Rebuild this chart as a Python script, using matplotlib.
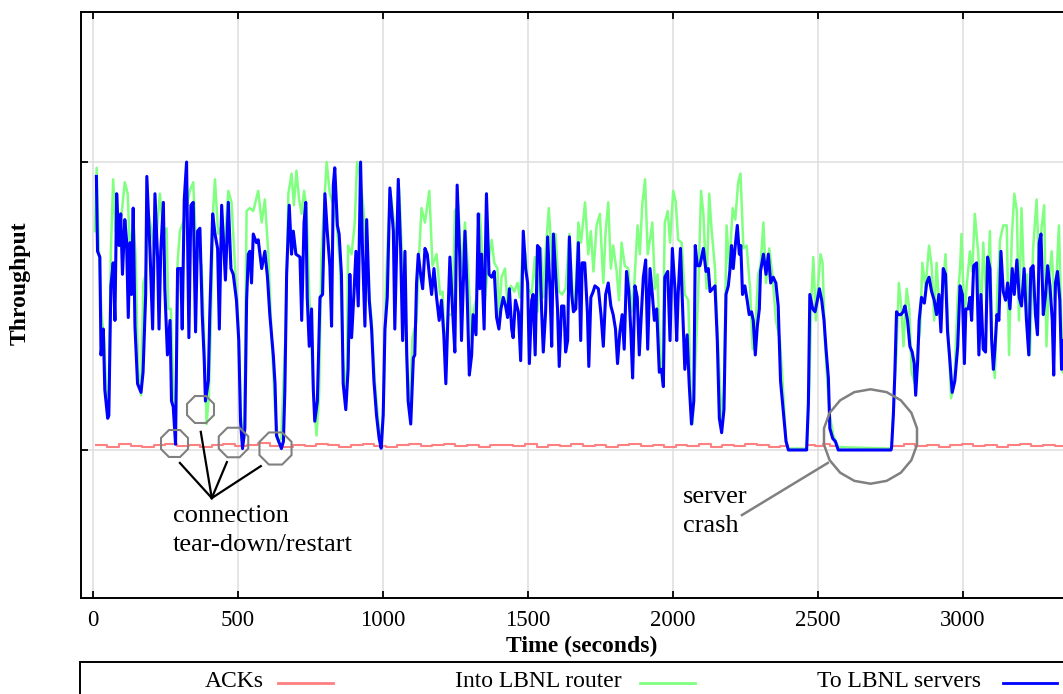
#!/usr/bin/env python
# -*- coding: utf-8 -*-

import matplotlib
matplotlib.use('Agg')
import matplotlib.pyplot as plt
from matplotlib.lines import Line2D
from matplotlib.patches import Rectangle

plt.rcParams['font.family'] = ['Liberation Serif', 'DejaVu Serif']

# "To LBNL servers" (blue), time in seconds, throughput (tick at 10)
blue_t = [12, 16, 24, 28, 36, 41, 51, 55, 59, 62, 70, 76, 82, 90, 96, 102, 110, 116, 122, 128,
          133, 139, 145, 154, 166, 173, 182, 186, 197, 206, 214, 223, 228, 234, 243, 248, 257, 266,
          271, 277, 285, 292, 303, 308, 315, 323, 331, 338, 346, 354, 361, 369, 377, 384, 388, 398,
          403, 413, 421, 430, 436, 444, 452, 457, 467, 476, 484, 495, 503, 509, 516, 524, 530, 536,
          541, 547, 553, 564, 570, 582, 593, 602, 610, 622, 628, 633, 650, 657, 662, 668, 677, 685,
          691, 700, 714, 720, 728, 734, 739, 746, 754, 760, 765, 774, 783, 792, 800, 808, 817, 823,
          829, 834, 843, 849, 857, 863, 872, 880, 886, 892, 900, 907, 915, 923, 930, 938, 944, 953,
          961, 969, 978, 987, 994, 1001, 1007, 1015, 1024, 1036, 1041, 1053, 1061, 1068, 1076, 1082,
          1087, 1096, 1105, 1110, 1116, 1122, 1130, 1137, 1145, 1153, 1160, 1168, 1176, 1185, 1194,
          1202, 1210, 1217, 1225, 1231, 1240, 1248, 1256, 1265, 1271, 1283, 1291, 1298, 1306, 1311,
          1321, 1329, 1334, 1340, 1349, 1357, 1366, 1375, 1384, 1392, 1400, 1407, 1415, 1423, 1430,
          1436, 1444, 1449, 1457, 1467, 1475, 1484, 1492, 1499, 1505, 1513, 1518, 1525, 1533, 1541,
          1547, 1553, 1561, 1568, 1576, 1582, 1588, 1595, 1602, 1608, 1616, 1624, 1630, 1637, 1643,
          1651, 1657, 1665, 1674, 1682, 1687, 1696, 1705, 1710, 1717, 1725, 1731, 1743, 1752, 1760,
          1768, 1777, 1786, 1794, 1802, 1809, 1817, 1825, 1832, 1840, 1848, 1855, 1861, 1869, 1877,
          1884, 1892, 1898, 1906, 1913, 1921, 1929, 1936, 1944, 1953, 1961, 1967, 1972, 1982, 1990,
          1998, 2007, 2013, 2018, 2026, 2033, 2041, 2049, 2056, 2064, 2072, 2077, 2084, 2093, 2105,
          2114, 2122, 2128, 2137, 2145, 2153, 2160, 2168, 2176, 2183, 2191, 2197, 2202, 2208, 2214,
          2222, 2229, 2234, 2240, 2248, 2256, 2263, 2271, 2277, 2284, 2291, 2298, 2302, 2312, 2321,
          2329, 2337, 2346, 2355, 2363, 2371, 2380, 2390, 2398, 2461, 2467, 2472, 2482, 2490, 2498,
          2505, 2513, 2521, 2528, 2536, 2541, 2551, 2560, 2570, 2752, 2754, 2760, 2765, 2771, 2777,
          2786, 2794, 2800, 2809, 2817, 2825, 2832, 2837, 2844, 2849, 2857, 2867, 2875, 2883, 2892,
          2901, 2909, 2917, 2924, 2932, 2940, 2947, 2955, 2963, 2972, 2982, 2990, 2998, 3005, 3010,
          3018, 3024, 3030, 3037, 3047, 3055, 3062, 3070, 3078, 3085, 3093, 3099, 3105, 3110, 3117,
          3124, 3131, 3139, 3147, 3154, 3162, 3170, 3177, 3186, 3194, 3202, 3211, 3219, 3227, 3234,
          3242, 3250, 3257, 3263, 3269, 3277, 3285, 3292, 3300, 3308, 3313, 3319, 3326, 3334, 3340,
          3345]
blue_v = [9.5, 6.9, 6.7, 3.3, 4.2, 2.1, 1.1, 1.2, 3.8, 5.7, 6.5, 4.5, 8.9, 7.1, 8.2, 6.1, 8.0, 7.3, 4.6, 7.2,
          5.4, 8.4, 4.3, 2.3, 2.0, 2.7, 5.4, 9.5, 6.9, 4.2, 8.9, 6.7, 4.2, 6.9, 8.6, 5.6, 3.3, 4.5,
          1.7, 1.5, 0.2, 6.3, 6.3, 4.2, 8.7, 10.0, 3.9, 8.5, 8.6, 4.1, 7.6, 7.7, 4.7, 3.1, 1.7, 2.4,
          4.7, 8.2, 7.5, 7.0, 4.2, 8.5, 6.9, 5.9, 8.6, 6.3, 6.1, 5.2, 3.8, 1.0, 0.05, 0.75, 5.2, 6.8,
          6.9, 5.8, 7.5, 7.2, 7.3, 6.3, 6.9, 6.0, 4.7, 3.3, 2.3, 0.5, 0.05, 0.3, 2.1, 6.1, 8.5, 6.8,
          7.6, 6.8, 6.7, 4.5, 7.9, 8.6, 5.3, 3.6, 4.9, 2.1, 1.0, 1.7, 5.3, 5.4, 8.9, 7.6, 6.4, 4.3,
          9.2, 9.8, 7.8, 7.5, 6.1, 2.3, 1.4, 2.8, 6.1, 3.9, 5.4, 6.9, 5.0, 10.0, 6.8, 4.3, 8.0, 5.2,
          4.2, 2.4, 1.2, 0.4, 0.06, 1.2, 4.2, 5.3, 9.1, 7.6, 4.2, 9.4, 7.0, 3.8, 6.9, 3.4,
          1.7, 0.9, 3.2, 3.3, 5.8, 6.8, 6.1, 5.6, 7.0, 6.8, 6.1, 5.4, 6.3, 5.3, 4.5,
          5.2, 4.0, 2.3, 4.9, 6.7, 4.9, 3.4, 9.2, 6.7, 3.8, 7.6, 5.2, 2.6, 3.3, 4.7,
          4.0, 8.2, 5.6, 6.8, 4.2, 8.9, 6.1, 6.0, 6.2, 4.6, 4.2, 4.9, 5.3, 5.0, 4.6,
          5.6, 4.2, 3.9, 5.2, 4.8, 3.1, 7.6, 6.3, 5.8, 3.0, 5.2, 5.4, 3.3, 7.1, 7.0,
          4.9, 3.4, 4.8, 7.4, 5.6, 3.6, 7.5, 6.2, 4.9, 2.9, 5.0, 5.0, 3.4, 3.8, 7.4,
          5.4, 4.8, 4.9, 7.2, 3.8, 6.5, 6.5, 4.8, 2.9, 5.3, 5.5, 5.7, 5.6, 4.7, 3.6,
          5.4, 5.8, 5.0, 4.7, 4.2, 3.0, 4.1, 4.7, 3.5, 6.2, 5.5, 4.1, 2.5, 5.7, 5.3,
          3.3, 4.9, 6.0, 6.6, 3.5, 6.3, 5.4, 4.5, 4.9, 2.7, 2.8, 2.2, 6.0, 6.2, 3.8,
          7.0, 5.6, 3.8, 5.4, 7.0, 5.0, 2.8, 4.0, 2.3, 0.9, 1.7, 7.1, 6.4, 6.4, 7.0,
          6.2, 6.3, 5.5, 5.6, 5.7, 3.8, 1.1, 0.6, 1.4, 5.4, 5.7, 6.3, 7.1, 6.3, 7.0,
          7.8, 6.8, 7.1, 5.4, 5.7, 5.2, 4.7, 4.8, 4.5, 3.3, 4.3, 4.9, 6.2, 6.8, 6.1,
          6.8, 5.8, 6.0, 5.8, 5.0, 2.4, 1.4, 0.3, 0.0, 0.0, 1.6, 5.4, 4.9, 4.8, 5.2,
          5.6, 5.2, 4.5, 3.5, 2.5, 0.75, 0.4, 0.3, 0.0, 0.0, 0.1, 1.2, 2.6, 4.8, 4.7,
          4.7, 4.8, 5.0, 4.5, 3.6, 3.4, 3.0, 1.9, 3.1, 4.5, 5.3, 5.1, 5.8, 6.0, 5.5,
          5.2, 4.7, 5.4, 4.1, 6.3, 6.1, 4.1, 3.1, 2.0, 2.4, 3.6, 5.7, 5.4, 3.0, 4.9,
          4.9, 5.3, 4.5, 6.4, 6.5, 3.3, 5.4, 3.5, 3.4, 6.7, 6.3, 3.8, 2.8, 3.5, 4.7,
          4.5, 6.9, 5.5, 5.2, 5.8, 4.9, 6.3, 5.4, 6.6, 5.3, 5.0, 6.3, 4.5, 3.3, 6.3,
          6.4, 4.7, 4.0, 7.2, 7.5, 4.7, 5.4, 6.4, 5.7, 4.5, 2.6, 5.8, 6.2, 5.2, 2.8,
          3.8]

# "Into LBNL router" (green)
green_t = [7, 13, 21, 30, 39, 47, 55, 62, 70, 78, 87, 99, 110, 120, 128, 139, 147, 156, 166, 174,
           182, 191, 202, 214, 223, 231, 243, 254, 260, 269, 277, 285, 292, 300, 311, 323, 334, 346,
           354, 363, 375, 384, 392, 400, 407, 415, 421, 432, 444, 455, 467, 478, 490, 501, 510, 522,
           530, 541, 553, 570, 582, 593, 605, 616, 628, 639, 650, 656, 665, 674, 685, 693, 702, 711,
           720, 728, 737, 746, 760, 771, 780, 788, 794, 806, 817, 829, 840, 852, 863, 875, 880, 892,
           903, 911, 921, 932, 941, 949, 961, 972, 984, 995, 1003, 1010, 1018, 1026, 1038, 1047, 1056,
           1068, 1079, 1091, 1102, 1116, 1125, 1133, 1145, 1160, 1171, 1185, 1197, 1206, 1214, 1225,
           1240, 1248, 1260, 1271, 1283, 1294, 1306, 1314, 1323, 1334, 1343, 1352, 1363, 1375, 1384,
           1395, 1400, 1409, 1421, 1430, 1441, 1453, 1464, 1472, 1484, 1492, 1501, 1513, 1524, 1533,
           1545, 1553, 1562, 1572, 1584, 1595, 1607, 1618, 1630, 1643, 1653, 1662, 1674, 1683, 1697,
           1708, 1717, 1726, 1737, 1748, 1760, 1768, 1777, 1786, 1794, 1806, 1814, 1823, 1834, 1846,
           1857, 1867, 1878, 1886, 1894, 1904, 1913, 1921, 1929, 1938, 1947, 1956, 1963, 1972, 1982,
           1990, 2001, 2010, 2018, 2030, 2041, 2053, 2061, 2068, 2076, 2087, 2097, 2105, 2116, 2125,
           2133, 2145, 2156, 2168, 2176, 2185, 2194, 2206, 2215, 2225, 2233, 2243, 2254, 2266, 2275,
           2286, 2294, 2302, 2312, 2321, 2332, 2344, 2355, 2369, 2378, 2390, 2398, 2461, 2470, 2478,
           2484, 2493, 2501, 2509, 2516, 2524, 2532, 2541, 2553, 2570, 2754, 2763, 2771, 2779, 2788,
           2795, 2806, 2815, 2823, 2834, 2844, 2852, 2860, 2871, 2883, 2892, 2901, 2909, 2921, 2929,
           2940, 2949, 2959, 2970, 2982, 2990, 2995, 3005, 3013, 3024, 3032, 3041, 3053, 3062, 3070,
           3082, 3093, 3101, 3110, 3119, 3128, 3139, 3151, 3159, 3168, 3177, 3186, 3193, 3202, 3211,
           3221, 3231, 3242, 3254, 3262, 3271, 3280, 3288, 3296, 3306, 3315, 3323, 3331, 3340, 3345]
green_v = [7.6, 9.8, 6.8, 4.7, 3.8, 1.7, 2.1, 6.9, 9.4, 7.6, 7.3, 8.2, 9.3, 8.9, 6.8, 8.0, 6.8, 2.8, 1.9, 5.8,
           6.1, 8.3, 7.6, 6.8, 7.9, 8.9, 7.5, 7.7, 4.9, 4.9, 2.1, 0.4, 6.5, 7.6, 7.9, 8.4, 9.0, 9.3,
           7.5, 6.8, 6.4, 3.8, 0.9, 1.9, 4.5, 8.4, 9.4, 7.5, 7.8, 7.2, 9.0, 8.6, 6.4, 4.5, 1.2, 0.4,
           8.3, 8.4, 8.3, 9.0, 7.9, 8.7, 6.8, 4.0, 1.4, 0.3, 0.4, 2.1, 4.2, 8.9, 9.6, 8.5, 9.7, 8.7,
           8.2, 9.0, 8.4, 5.4, 2.1, 0.5, 1.9, 6.8, 7.9, 10.0, 8.9, 8.5, 7.9, 6.4, 3.1, 1.7, 7.1, 6.8,
           7.9, 10.0, 9.5, 8.5, 7.2, 5.8, 4.5, 2.4, 1.0, 0.2, 1.9, 5.6, 7.6, 9.0, 7.9, 6.8, 9.1,
           6.2, 3.8, 1.3, 3.9, 4.5, 6.8, 8.4, 7.9, 9.0, 6.4, 6.8, 5.4, 5.5, 3.3, 4.7,
           4.7, 8.3, 8.5, 6.2, 7.9, 6.2, 3.8, 4.9, 5.3, 8.2, 6.8, 5.2, 6.5, 7.3, 6.5,
           6.3, 4.5, 6.0, 6.3, 5.0, 5.7, 5.5, 5.8, 5.3, 7.2, 6.8, 5.6, 5.4, 6.7, 4.8,
           7.0, 5.3, 7.0, 8.4, 6.4, 7.5, 5.5, 5.4, 5.6, 7.5, 5.6, 4.9, 7.9, 7.2, 8.6,
           6.8, 7.6, 6.2, 7.8, 8.2, 5.8, 7.6, 8.6, 6.3, 7.1, 6.2, 5.2, 7.2, 6.4, 6.3,
           4.8, 5.8, 7.8, 6.8, 8.5, 9.4, 6.8, 7.3, 7.9, 5.6, 6.1, 3.1, 2.4, 7.9, 8.3,
           7.2, 9.0, 8.6, 7.3, 7.2, 5.4, 5.2, 2.1, 0.9, 2.7, 5.4, 9.0, 8.2, 5.6, 8.9,
           7.7, 6.3, 3.6, 1.0, 2.1, 7.8, 6.3, 8.4, 8.0, 9.3, 9.6, 7.0, 7.1, 5.6, 3.5,
           4.5, 6.1, 6.4, 7.9, 5.8, 7.0, 6.0, 4.5, 3.8, 2.4, 0.3, 0.05, 0.05, 2.1, 5.4,
           6.7, 4.5, 5.8, 6.8, 6.5, 3.8, 2.4, 1.2, 0.5, 0.1, 0.05, 2.1, 3.4, 5.8, 4.9,
           3.6, 5.6, 4.9, 2.7, 2.3, 3.6, 4.1, 6.5, 5.6, 7.1, 6.4, 4.5, 6.5, 4.6, 5.4,
           6.8, 4.2, 1.8, 2.3, 5.3, 6.3, 7.5, 4.5, 5.7, 6.9, 6.2, 8.2, 6.8, 4.5, 7.2,
           5.0, 7.6, 3.4, 2.5, 5.6, 7.3, 7.8, 7.8, 3.3, 7.3, 8.9, 8.3, 4.5, 8.4, 5.8,
           6.1, 3.3, 7.0, 8.7, 6.4, 7.7, 8.5, 3.6, 5.8, 6.9, 5.2, 6.1, 7.8, 4.1, 2.7]

# ACKs (red), three stretches with outages in between
ack_t1 = list(range(10, 2400, 40))
ack_v1 = [0.18, 0.12, 0.20, 0.15, 0.10, 0.17, 0.22, 0.14, 0.19, 0.11, 0.16, 0.21, 0.13, 0.18, 0.24,
          0.15, 0.10, 0.19, 0.14, 0.20, 0.16, 0.12, 0.18, 0.22, 0.15, 0.09, 0.17, 0.20, 0.13, 0.16,
          0.21, 0.14, 0.18, 0.11, 0.16, 0.19, 0.14, 0.22, 0.12, 0.17, 0.15, 0.20, 0.13, 0.18, 0.10,
          0.16, 0.21, 0.14, 0.19, 0.12, 0.17, 0.15, 0.22, 0.09, 0.18, 0.14, 0.20, 0.16, 0.11, 0.15]
ack_t2 = [2466, 2491, 2516, 2541]
ack_v2 = [0.18, 0.14, 0.21, 0.15]
ack_t3 = list(range(2756, 3350, 40))
ack_v3 = [0.15, 0.20, 0.13, 0.18, 0.11, 0.17, 0.22, 0.14, 0.19, 0.12, 0.16, 0.20, 0.13, 0.18, 0.15]

x_ticks = [0, 500, 1000, 1500, 2000, 2500, 3000]
y_ticks = [0, 10]
labels = ['ACKs', 'Into LBNL router', 'To LBNL servers']
colors = ['#ff8080', '#80ff80', '#0000ff']


def main():
    fig = plt.figure(figsize=(10.63, 6.94), dpi=100)
    ax = fig.add_axes([81 / 1063, 96 / 694, 982 / 1063, 586 / 694])

    # ACK stretches drop to zero during the outages
    for ts, vs, end in ((ack_t1, ack_v1, 2398), (ack_t2, ack_v2, 2566), (ack_t3, ack_v3, 3350)):
        ax.plot(ts + [end], vs + [vs[-1]], color=colors[0], lw=1.5, drawstyle='steps-post', zorder=3)
    ax.plot(green_t, green_v, color=colors[1], lw=1.8, zorder=4)
    ax.plot(blue_t, blue_v, color=colors[2], lw=2.2, zorder=5)

    ax.set_xlim(-41, 3345)
    ax.set_ylim(-5.14, 15.21)
    ax.set_xticks(x_ticks)
    ax.set_yticks(y_ticks)
    ax.set_yticklabels([])
    ax.grid(True, color='#e0e0e0', lw=1.2, zorder=0)
    ax.set_axisbelow(True)
    ax.tick_params(direction='in', top=True, right=False, length=5, width=1.3,
                   labelsize=16.5, pad=9)
    for side in ('left', 'top', 'bottom'):
        ax.spines[side].set_linewidth(1.4)
    ax.spines['right'].set_visible(False)

    # connection tear-down circles and pointer lines
    gray = '#808080'
    for t, v, s in ((279, 0.24, 21), (369, 1.42, 21), (483, 0.28, 23), (628, 0.07, 25)):
        ax.plot([t], [v], marker=(8, 0, 22.5), ms=s, mfc='none', mec=gray, mew=1.5, zorder=6)
    for t, v in ((300, -0.45), (372, 0.63), (462, -0.42), (579, -0.56)):
        ax.plot([410, t], [-1.67, v], color='black', lw=1.6, zorder=6)
    ax.text(275, -2.5, 'connection', fontsize=19, va='baseline', ha='left')
    ax.text(275, -3.51, 'tear-down/restart', fontsize=19, va='baseline', ha='left')

    # server crash
    ax.plot([2679], [0.49], marker=(18, 0, 0), ms=68, mfc='none', mec=gray, mew=1.8, zorder=6)
    ax.plot([2238, 2534], [-2.26, -0.45], color=gray, lw=1.8, zorder=6)
    ax.text(2034, -1.84, 'server', fontsize=19, va='baseline', ha='left')
    ax.text(2034, -2.85, 'crash', fontsize=19, va='baseline', ha='left')

    fig.text(582 / 1063, 1 - 652 / 694, 'Time (seconds)', fontsize=17, fontweight='bold',
             ha='center', va='baseline')
    fig.text(20 / 1063, 1 - 283 / 694, 'Throughput', fontsize=17, fontweight='bold',
             rotation=90, ha='center', va='center')

    # legend box drawn below the plot, running off the figure edges
    fig.add_artist(Rectangle((80 / 1063, -0.05), 1.0, 0.05 + 32 / 694, transform=fig.transFigure,
                             fill=False, edgecolor='black', lw=1.4))
    text_ends = [264, 622, 981]
    line_spans = [(278, 333), (640, 695), (1003, 1057)]
    for lab, col, xe, (x0, x1) in zip(labels, colors, text_ends, line_spans):
        fig.text(xe / 1063, 1 - 687 / 694, lab, fontsize=17, ha='right', va='baseline')
        fig.add_artist(Line2D([x0 / 1063, x1 / 1063], [1 - 683 / 694] * 2, color=col, lw=2,
                              transform=fig.transFigure))

    fig.savefig('out.png', dpi=100)


if __name__ == '__main__':
    main()
